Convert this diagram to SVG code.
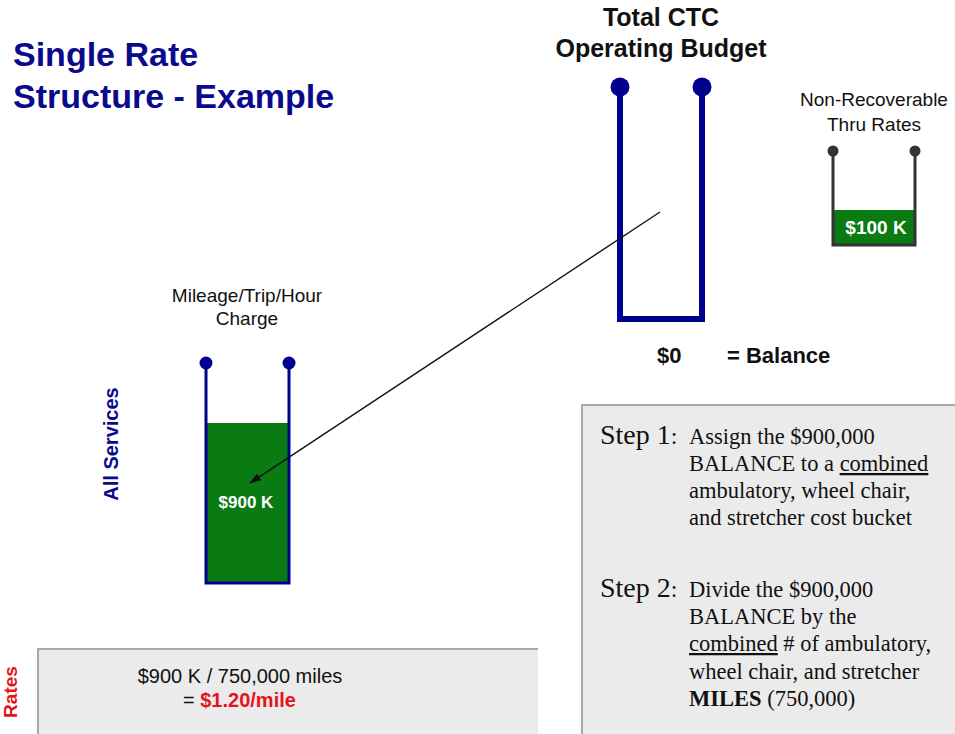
<svg xmlns="http://www.w3.org/2000/svg" width="955" height="734" viewBox="0 0 955 734">
<defs>
<style>
.sans{font-family:"Liberation Sans",Arial,sans-serif;}
.serif{font-family:"Liberation Serif","Times New Roman",serif;fill:#111;}
.b{font-weight:bold;}
.blk{fill:#111;}
.blue{fill:#0a0a8c;}
.wht{fill:#fff;}
.red{fill:#e3141e;}
.mid{text-anchor:middle;}
.green{fill:#0a7a12;}
.bucketBlue{fill:none;stroke:#00008f;stroke-linejoin:miter;}
.dotBlue{fill:#00008f;}
.u{text-decoration:underline;}
</style>
<marker id="arr" viewBox="0 0 12 8" refX="11" refY="4" markerWidth="12" markerHeight="8" markerUnits="userSpaceOnUse" orient="auto">
<path d="M0,0 L12,4 L0,8 z" fill="#111"/>
</marker>
</defs>
<rect width="955" height="734" fill="#fff"/>

<g id="title">
<text class="sans b blue" x="13" y="66" font-size="34">Single Rate</text>
<text class="sans b blue" x="13" y="108" font-size="34">Structure - Example</text>
</g>

<g id="total-budget">
<text class="sans b blk mid" x="661" y="26" font-size="25">Total CTC</text>
<text class="sans b blk mid" x="661" y="57" font-size="25">Operating Budget</text>
<path class="bucketBlue" d="M620,87 V319 H702 V87" stroke-width="6"/>
<circle class="dotBlue" cx="620" cy="87" r="9.5"/>
<circle class="dotBlue" cx="702" cy="87" r="9.5"/>
</g>

<g id="balance">
<text class="sans b blk" x="657" y="363" font-size="22">$0</text>
<text class="sans b blk" x="727" y="363" font-size="22">= Balance</text>
</g>

<g id="non-recoverable">
<text class="sans blk mid" x="874" y="106" font-size="19">Non-Recoverable</text>
<text class="sans blk mid" x="874" y="131" font-size="19">Thru Rates</text>
<rect class="green" x="833" y="210" width="82" height="35"/>
<path d="M833,151 V245 H915 V151" fill="none" stroke="#333" stroke-width="3"/>
<circle cx="833" cy="151" r="5.5" fill="#333"/>
<circle cx="915" cy="151" r="5.5" fill="#333"/>
<text class="sans b wht mid" x="876" y="234" font-size="19">$100 K</text>
</g>

<g id="mileage-bucket">
<text class="sans blk mid" x="247" y="302" font-size="19">Mileage/Trip/Hour</text>
<text class="sans blk mid" x="247" y="325" font-size="19">Charge</text>
<rect class="green" x="206" y="423" width="83" height="160"/>
<path class="bucketBlue" d="M206,363 V583 H289 V363" stroke-width="3"/>
<circle class="dotBlue" cx="206" cy="363" r="6.5"/>
<circle class="dotBlue" cx="289" cy="363" r="6.5"/>
<text class="sans b wht mid" x="246" y="508" font-size="17">$900 K</text>
</g>

<g id="all-services">
<text class="sans b blue mid" x="118" y="444" font-size="20" transform="rotate(-90 118 444)">All Services</text>
</g>

<g id="rates">
<text class="sans b red mid" x="17" y="692" font-size="19" transform="rotate(-90 17 692)">Rates</text>
<rect x="38" y="649" width="500" height="90" fill="#ebebeb"/>
<path d="M38,739 V649 H538" fill="none" stroke="#a8a8a8" stroke-width="2"/>
<text class="sans blk mid" x="240" y="683" font-size="20">$900 K / 750,000 miles</text>
<text class="sans blk" x="183" y="707" font-size="20">= <tspan class="b red">$1.20/mile</tspan></text>
</g>

<g id="steps">
<rect x="582" y="405" width="380" height="340" fill="#ebebeb"/>
<path d="M582,740 V405 H960" fill="none" stroke="#a8a8a8" stroke-width="2"/>
<text class="serif" x="600" y="444" font-size="28">Step 1<tspan font-size="24">:</tspan></text>
<text class="serif" font-size="22.5">
<tspan x="689" y="444">Assign the $900,000</tspan>
<tspan x="689" y="471">BALANCE to a <tspan class="u">combined</tspan></tspan>
<tspan x="689" y="498">ambulatory, wheel chair,</tspan>
<tspan x="689" y="525">and stretcher cost bucket</tspan>
</text>
<text class="serif" x="600" y="597" font-size="28">Step 2<tspan font-size="24">:</tspan></text>
<text class="serif" font-size="22.5">
<tspan x="689" y="597">Divide the $900,000</tspan>
<tspan x="689" y="624">BALANCE by the</tspan>
<tspan x="689" y="651"><tspan class="u">combined</tspan> # of ambulatory,</tspan>
<tspan x="689" y="679">wheel chair, and stretcher</tspan>
<tspan x="689" y="706"><tspan font-weight="bold">MILES</tspan> (750,000)</tspan>
</text>
</g>

<g id="connectors">
<line x1="660" y1="212" x2="250" y2="483" stroke="#111" stroke-width="1.4" marker-end="url(#arr)"/>
</g>
</svg>
